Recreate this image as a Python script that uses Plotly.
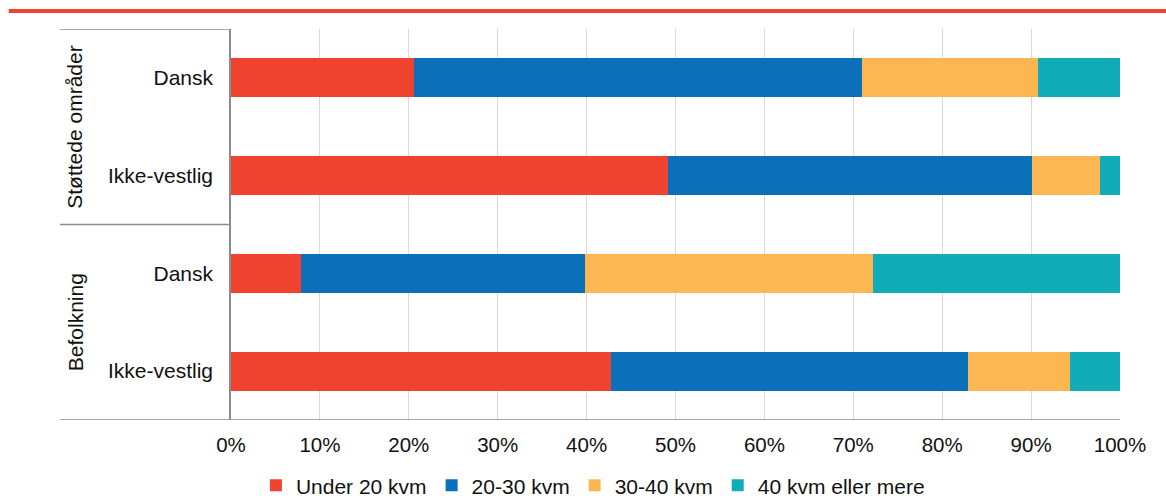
import plotly.graph_objects as go

# ---- data ----
groups = ["Støttede områder", "Støttede områder", "Befolkning", "Befolkning"]
categories = ["Dansk", "Ikke-vestlig", "Dansk", "Ikke-vestlig"]
series_names = ["Under 20 kvm", "20-30 kvm", "30-40 kvm", "40 kvm eller mere"]
under_20 = [20.6, 49.1, 7.9, 42.8]
kvm_20_30 = [50.4, 41.0, 31.9, 40.1]
kvm_30_40 = [19.8, 7.7, 32.4, 11.5]
kvm_40_plus = [9.2, 2.2, 27.8, 5.6]
x_ticks = [0, 10, 20, 30, 40, 50, 60, 70, 80, 90, 100]
x_tick_labels = ["0%", "10%", "20%", "30%", "40%", "50%", "60%", "70%", "80%", "90%", "100%"]

colors = ["#F0432F", "#0C6FB9", "#FCB752", "#10ACB7"]
FONT = "Liberation Sans, Arial, sans-serif"
AX = "#8c8c8c"
TXT = "#111111"

positions = list(range(len(categories)))

fig = go.Figure()
for name, vals, col in zip(series_names, [under_20, kvm_20_30, kvm_30_40, kvm_40_plus], colors):
    fig.add_trace(go.Bar(
        y=positions, x=vals, name=name, orientation="h",
        marker=dict(color=col, line=dict(width=0)),
        hoverinfo="x+name",
    ))

# group dividers (in data coordinates of the category axis)
shapes = []
for yb in [-0.5, 1.5]:
    shapes.append(dict(type="line", xref="paper", yref="y", x0=-0.1924, x1=0, y0=yb, y1=yb,
                       line=dict(color=AX, width=1.5)))
shapes.append(dict(type="line", xref="paper", yref="y", x0=-0.1924, x1=1, y0=3.5, y1=3.5,
                   line=dict(color=AX, width=1.5)))
# top red rule
shapes.append(dict(type="line", xref="paper", yref="paper", x0=-0.25, x1=1.06, y0=1.046, y1=1.046,
                   line=dict(color="#F0432F", width=4)))

# group labels
annotations = []
seen = []
for g in groups:
    if g in seen:
        continue
    seen.append(g)
    idx = [i for i, gg in enumerate(groups) if gg == g]
    annotations.append(dict(
        text=g, xref="paper", yref="y", x=-0.1755, y=sum(idx) / len(idx),
        textangle=-90, showarrow=False, xanchor="center", yanchor="middle",
        font=dict(family=FONT, size=21, color=TXT),
    ))

fig.update_layout(
    barmode="stack",
    bargap=0.6,
    width=1166, height=501,
    margin=dict(l=231, r=46, t=29, b=81, autoexpand=False),
    plot_bgcolor="white", paper_bgcolor="white",
    font=dict(family=FONT, size=21, color=TXT),
    shapes=shapes,
    annotations=annotations,
    showlegend=True,
    legend=dict(
        orientation="h", x=0.028, xanchor="left", y=-0.168, yanchor="middle",
        font=dict(family=FONT, size=21, color=TXT),
        traceorder="normal", itemclick=False, itemdoubleclick=False,
    ),
    xaxis=dict(
        range=[0, 100], tickvals=x_ticks, ticktext=x_tick_labels,
        showgrid=True, gridcolor="#d9d9d9", gridwidth=1,
        zeroline=False, showline=False, ticks="",
        ticklabelstandoff=10,
        tickfont=dict(family=FONT, size=20.5, color=TXT),
        fixedrange=True,
    ),
    yaxis=dict(
        range=[3.5, -0.5], tickvals=positions, ticktext=categories,
        showgrid=False, zeroline=False, showline=True, linecolor=AX, linewidth=1.5,
        ticks="", ticklabelstandoff=12,
        tickfont=dict(family=FONT, size=21, color=TXT),
        fixedrange=True,
    ),
)

fig.write_html(
    "out.html",
    config={"displayModeBar": False},
    post_script="document.body.style.margin='0';document.body.style.padding='0';",
)
